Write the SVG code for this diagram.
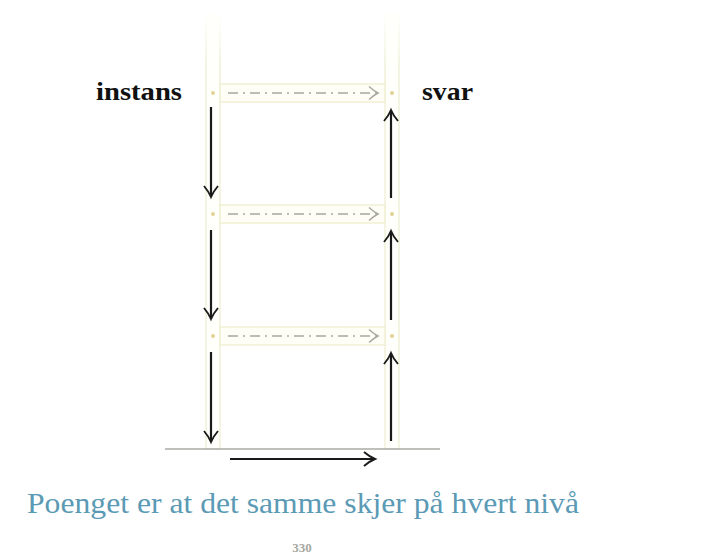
<svg xmlns="http://www.w3.org/2000/svg" width="720" height="555" viewBox="0 0 720 555">
<defs>
<linearGradient id="fade" x1="0" y1="0" x2="0" y2="1">
<stop offset="0" stop-color="#efefd6" stop-opacity="0"/>
<stop offset="0.12" stop-color="#efefd6" stop-opacity="1"/>
<stop offset="1" stop-color="#efefd6" stop-opacity="1"/>
</linearGradient>
<marker id="blk" markerWidth="18" markerHeight="18" refX="13" refY="9" orient="auto" markerUnits="userSpaceOnUse">
<path d="M2,2 Q8,7 13,9 Q8,11 2,16" fill="none" stroke="#1a1a1a" stroke-width="1.9"/>
</marker>
<marker id="gry" markerWidth="16" markerHeight="16" refX="12" refY="8" orient="auto" markerUnits="userSpaceOnUse">
<path d="M3,1.5 Q8,6 12,8 Q8,10 3,14.5" fill="none" stroke="#a8a8a0" stroke-width="1.4"/>
</marker>
</defs>
<style>
.bar{fill:#fefef6;stroke:#efefd2;stroke-width:1.4}
.dot{fill:#e3d396}
.dd{stroke:#a8a8a0;stroke-width:1.7;stroke-dasharray:10,5,2,5;fill:none}
.arr{stroke:#1a1a1a;stroke-width:2.2;fill:none}
.lbl{font-family:"Liberation Serif","DejaVu Serif",serif;font-weight:bold;font-size:26px;fill:#111}
</style>
<rect width="720" height="555" fill="#ffffff"/>
<g id="tube-left">
<rect x="206" y="14" width="14" height="435" fill="#fffffb" stroke="url(#fade)" stroke-width="1.4"/>
</g>
<g id="tube-right">
<rect x="385" y="14" width="14" height="435" fill="#fffffb" stroke="url(#fade)" stroke-width="1.4"/>
</g>
<g id="level-1">
<rect class="bar" x="220" y="84" width="165" height="18"/>
<circle class="dot" cx="213" cy="93" r="2"/>
<circle class="dot" cx="392" cy="93" r="2"/>
</g>
<g id="level-2">
<rect class="bar" x="220" y="205" width="165" height="18"/>
<circle class="dot" cx="213" cy="214" r="2"/>
<circle class="dot" cx="392" cy="214" r="2"/>
</g>
<g id="level-3">
<rect class="bar" x="220" y="327" width="165" height="18"/>
<circle class="dot" cx="213" cy="336" r="2"/>
<circle class="dot" cx="392" cy="336" r="2"/>
</g>
<g id="label-instans"><text class="lbl" x="96" y="100" textLength="86" lengthAdjust="spacingAndGlyphs">instans</text></g>
<g id="label-svar"><text class="lbl" x="422" y="100" textLength="51" lengthAdjust="spacingAndGlyphs">svar</text></g>
<g id="connectors">
<line x1="228" y1="93" x2="378" y2="93" class="dd" marker-end="url(#gry)"/>
<line x1="228" y1="214" x2="378" y2="214" class="dd" marker-end="url(#gry)"/>
<line x1="228" y1="336" x2="378" y2="336" class="dd" marker-end="url(#gry)"/>
<line x1="211" y1="107" x2="211" y2="197" class="arr" marker-end="url(#blk)"/>
<line x1="211" y1="230" x2="211" y2="319" class="arr" marker-end="url(#blk)"/>
<line x1="211" y1="352" x2="211" y2="442" class="arr" marker-end="url(#blk)"/>
<line x1="391" y1="198" x2="391" y2="110" class="arr" marker-end="url(#blk)"/>
<line x1="391" y1="320" x2="391" y2="231" class="arr" marker-end="url(#blk)"/>
<line x1="391" y1="441" x2="391" y2="353" class="arr" marker-end="url(#blk)"/>
<line x1="230" y1="459" x2="375" y2="459" class="arr" marker-end="url(#blk)"/>
</g>
<line x1="165" y1="449" x2="440" y2="449" stroke="#a9aca4" stroke-width="1.3"/>
<text x="27" y="513" font-family="'Liberation Serif','DejaVu Serif',serif" font-size="29" fill="#5b9ab5" textLength="552" lengthAdjust="spacingAndGlyphs">Poenget er at det samme skjer på hvert nivå</text>
<text x="302" y="552" font-family="'Liberation Serif','DejaVu Serif',serif" font-size="13" font-weight="bold" fill="#a6a8a0" text-anchor="middle">330</text>
</svg>
